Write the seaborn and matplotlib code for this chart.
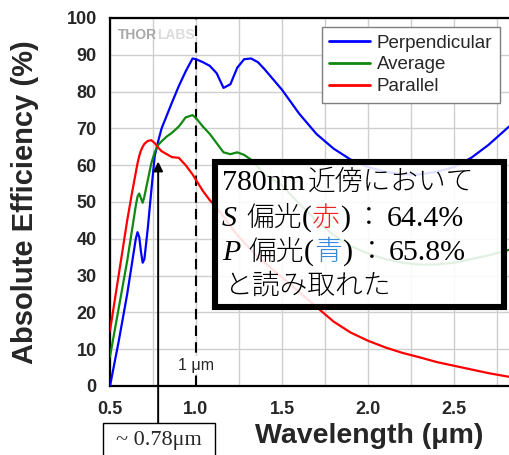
import numpy as np
import pandas as pd
import matplotlib
matplotlib.use("Agg")
import matplotlib.pyplot as plt
from matplotlib.patches import Rectangle
from matplotlib.ticker import MultipleLocator
import seaborn as sns

# data (wavelength in um, efficiency in %)
wavelength = [0.50, 0.55, 0.60, 0.63, 0.65, 0.66, 0.67, 0.68, 0.69, 0.70, 0.72, 0.74,
              0.76, 0.78, 0.80, 0.83, 0.86, 0.90, 0.94, 0.98, 1.00, 1.04, 1.08, 1.12,
              1.16, 1.20, 1.24, 1.28, 1.32, 1.36, 1.40, 1.50, 1.60, 1.70, 1.80, 1.90,
              2.00, 2.10, 2.20, 2.30, 2.40, 2.50, 2.60, 2.70, 2.82]
perpendicular = [0.0, 12.0, 25.0, 34.0, 40.0, 41.8, 40.5, 36.5, 33.5, 34.5, 43.0, 53.0,
                 62.5, 66.5, 70.0, 73.5, 77.0, 81.5, 85.5, 89.0, 88.8, 88.0, 87.0, 85.0,
                 81.0, 82.0, 86.5, 88.8, 89.0, 88.0, 86.0, 80.5, 74.0, 68.5, 64.5, 61.5,
                 59.5, 58.2, 57.5, 57.5, 58.2, 59.5, 62.0, 65.5, 70.5]
average = [8.0, 21.0, 34.0, 43.0, 49.0, 51.5, 52.3, 51.0, 49.8, 51.5, 56.0, 60.5,
           63.5, 65.5, 66.5, 67.8, 68.8, 70.5, 73.0, 73.6, 72.8, 70.5, 68.5, 66.0,
           63.5, 63.0, 63.5, 62.8, 61.5, 59.5, 57.5, 54.5, 49.5, 45.0, 41.0, 38.0,
           36.0, 34.5, 33.5, 33.0, 33.0, 33.5, 34.5, 35.5, 37.0]
parallel = [15.0, 30.0, 45.0, 53.0, 58.0, 60.5, 62.5, 64.0, 65.0, 65.8, 66.6, 66.8,
            66.0, 64.8, 63.8, 63.0, 62.2, 62.0, 60.0, 57.5, 56.0, 53.0, 50.5, 48.5,
            46.0, 43.5, 41.0, 39.0, 37.0, 35.0, 33.5, 29.5, 25.5, 21.5, 17.5, 14.5,
            12.3, 10.5, 9.0, 7.8, 6.5, 5.5, 4.5, 3.5, 2.5]
series_names = ["Perpendicular", "Average", "Parallel"]
series_colors = ["#0000ff", "#118811", "#ff0000"]
marker_wl = 0.78
marker_top = 61.0

W, H = 509, 455
sns.set_style("white")
plt.rcParams["font.family"] = ["Liberation Sans", "DejaVu Sans"]

df = pd.DataFrame({
    "wl": wavelength * 3,
    "eff": perpendicular + average + parallel,
    "pol": [n for n in series_names for _ in wavelength],
})

fig = plt.figure(figsize=(W / 100, H / 100), dpi=100)
ax = fig.add_axes([110 / W, 1 - 386 / H, (W - 110) / W, (386 - 18) / H])

sns.lineplot(data=df, x="wl", y="eff", hue="pol", hue_order=series_names,
             palette=dict(zip(series_names, series_colors)), estimator=None,
             linewidth=1.6, ax=ax, zorder=3)

ax.set_xlim(0.5, 0.5 + (W - 110) / 172)
ax.set_ylim(0, 100)
ax.xaxis.set_major_locator(MultipleLocator(0.5))
ax.xaxis.set_minor_locator(MultipleLocator(0.25))
ax.yaxis.set_major_locator(MultipleLocator(10))
ax.grid(True, which="both", color="#cfcfcf", linewidth=1.0, zorder=0)
ax.set_axisbelow(True)
for s in ["left", "bottom", "top"]:
    ax.spines[s].set_color("black")
    ax.spines[s].set_linewidth(1.6)
ax.spines["right"].set_visible(False)
ax.tick_params(which="major", direction="inout", length=7, width=1.3, color="black")
ax.tick_params(which="minor", direction="out", length=4, width=1.1, color="black")
ax.tick_params(axis="y", right=False, pad=6)
ax.tick_params(axis="x", top=False, pad=7)
ax.tick_params(which="minor", left=False)
for lab in ax.get_xticklabels() + ax.get_yticklabels():
    lab.set_fontsize(13)
    lab.set_fontweight("bold")

ax.set_xlabel("Wavelength (μm)", fontsize=20.5, fontweight="bold")
ax.set_ylabel("Absolute Efficiency (%)", fontsize=21, fontweight="bold")
ax.xaxis.set_label_coords(0.649, -0.10)
ax.yaxis.set_label_coords(-0.178, 0.5)

# dashed 1 um marker
ax.axvline(1.0, color="black", linewidth=1.5, dashes=(5, 3), zorder=2)
ax.text(1.0, 5.7, "1 μm", ha="center", va="center", fontsize=11.5, zorder=2,
        bbox=dict(facecolor="white", edgecolor="none", pad=1))

# logo text
ax.text(0.773, 95.3, "THOR", ha="right", va="center", fontsize=10,
        fontweight="bold", color="#a8a8a8", zorder=2)
ax.text(0.773, 95.3, "LABS", ha="left", va="center", fontsize=10,
        fontweight="bold", color="#dcdcdc", zorder=2)

# legend
handles, labels = ax.get_legend_handles_labels()
leg = ax.legend(handles, labels, loc="upper right",
                bbox_to_anchor=(500 / W, 1 - 27 / H), bbox_transform=fig.transFigure,
                borderaxespad=0, fancybox=False, framealpha=1, edgecolor="#7f7f7f",
                fontsize=13.5, handlelength=2.2, labelspacing=0.25, borderpad=0.4,
                handletextpad=0.35)
leg.get_frame().set_linewidth(1.0)
for line in leg.get_lines():
    line.set_linewidth(2)

# arrow pointing at ~0.78 um
ax.annotate("", xy=(marker_wl, marker_top), xytext=(marker_wl, -10.6),
            arrowprops=dict(arrowstyle="-|>", color="black", lw=1.4,
                            mutation_scale=14, shrinkA=0, shrinkB=0),
            annotation_clip=False, zorder=4)
fig.add_artist(Rectangle((103 / W, 1 - 470 / H), 112 / W, 47 / H, transform=fig.transFigure,
                         facecolor="white", edgecolor="black", linewidth=1.0, zorder=5))
fig.text(159 / W, 1 - 441 / H, "~ 0.78μm", ha="center", va="center", fontsize=16,
         family=["Liberation Serif", "DejaVu Serif"], zorder=6)

# annotation box
fig.add_artist(Rectangle((215 / W, 1 - 307 / H), 288.5 / W, 145.5 / H,
                         transform=fig.transFigure, facecolor="white", alpha=0.88,
                         edgecolor="none", zorder=5))
fig.add_artist(Rectangle((215 / W, 1 - 307 / H), 288.5 / W, 145.5 / H,
                         transform=fig.transFigure, facecolor="none",
                         edgecolor="black", linewidth=4.4, joinstyle="miter", zorder=6))

renderer = fig.canvas.get_renderer()
latin = dict(family=["Liberation Serif", "Noto Sans CJK JP"], fontsize=21.5)
latin_it = dict(family=["Liberation Serif", "Noto Sans CJK JP"], fontsize=21.5, fontstyle="italic")
cjk = dict(family=["Noto Sans CJK JP", "Liberation Serif"], fontsize=20, fontweight="light")


def put_row(x_px, base_px, parts):
    x = x_px
    for s, col, style, gap in parts:
        t = fig.text(x / W, 1 - base_px / H, s, color=col, ha="left", va="baseline",
                     zorder=7, **style)
        x += t.get_window_extent(renderer).width + gap


put_row(222, 190, [("780nm", "black", latin, 3), ("近傍において", "black", cjk, 0)])
put_row(222, 225.5, [("S", "black", latin_it, 9), ("偏光", "black", cjk, 0),
                     ("(", "black", latin, 1), ("赤", "#ee2222", cjk, 1),
                     (")", "black", latin, 4), ("：", "black", cjk, 4),
                     ("64.4%", "black", latin, 0)])
put_row(222, 260, [("P", "black", latin_it, 8), ("偏光", "black", cjk, 0),
                   ("(", "black", latin, 1), ("青", "#3a8ad8", cjk, 1),
                   (")", "black", latin, 4), ("：", "black", cjk, 4),
                   ("65.8%", "black", latin, 0)])
put_row(224, 294, [("と読み取れた", "black", cjk, 0)])

fig.savefig("out.png", dpi=100)
